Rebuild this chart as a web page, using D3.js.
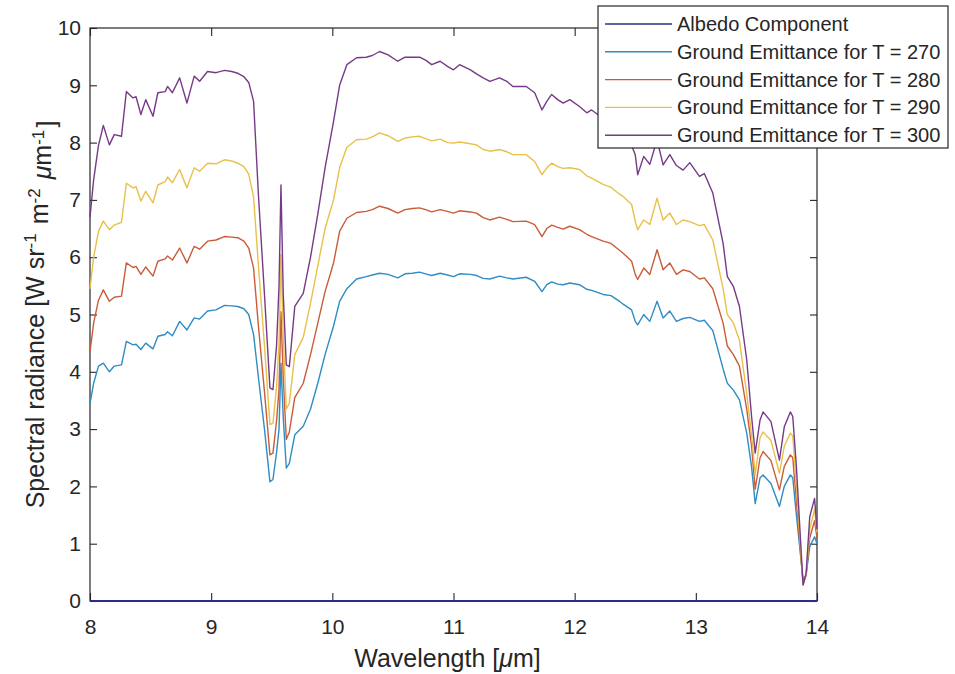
<!DOCTYPE html>
<html>
<head>
<meta charset="utf-8">
<script src="https://cdn.jsdelivr.net/npm/d3@7"></script>
<style>
  body { margin: 0; background: #fff; }
  svg { display: block; }
  text { font-family: "Liberation Sans", Arial, Helvetica, sans-serif; fill: #262626; }
</style>
</head>
<body>
<svg id="chart" width="955" height="674"></svg>
<script>
// Wavelength grid (µm) shared by the ground-emittance spectra
const wavelength = [
  8.00, 8.03, 8.07, 8.11, 8.16, 8.20, 8.26, 8.30, 8.355, 8.38,
  8.42, 8.46, 8.52, 8.56, 8.62, 8.64, 8.68, 8.74, 8.80, 8.86,
  8.905, 8.97, 9.04, 9.11, 9.17, 9.22, 9.27, 9.31, 9.35, 9.39,
  9.44, 9.485, 9.51, 9.54, 9.56, 9.576, 9.595, 9.62, 9.645, 9.69,
  9.76, 9.82, 9.88, 9.94, 10.01, 10.06, 10.12, 10.20, 10.28, 10.33,
  10.39, 10.46, 10.54, 10.60, 10.66, 10.72, 10.77, 10.82, 10.89, 10.95,
  11.00, 11.05, 11.14, 11.19, 11.245, 11.30, 11.38, 11.44, 11.49, 11.60,
  11.67, 11.73, 11.77, 11.81, 11.86, 11.905, 11.96, 12.04, 12.10, 12.14,
  12.235, 12.30, 12.37, 12.40, 12.47, 12.50, 12.52, 12.57, 12.62, 12.68,
  12.73, 12.785, 12.84, 12.895, 12.95, 13.03, 13.07, 13.14, 13.225, 13.26,
  13.31, 13.36, 13.42, 13.46, 13.49, 13.53, 13.555, 13.62, 13.69, 13.73,
  13.78, 13.80, 13.83, 13.885, 13.91, 13.94, 13.98, 14.00
];

// Albedo component (reflected part), essentially zero over the band
const albedoWl = [8, 9, 10, 11, 12, 13, 14];
const albedo   = [0, 0, 0, 0, 0, 0, 0];

// Ground emittance spectra, W sr^-1 m^-2 µm^-1
const emit270 = [
  3.45, 3.80, 4.10, 4.15, 4.00, 4.10, 4.12, 4.53, 4.47, 4.48,
  4.39, 4.50, 4.40, 4.62, 4.65, 4.70, 4.63, 4.88, 4.73, 4.94,
  4.92, 5.06, 5.08, 5.16, 5.15, 5.14, 5.10, 5.00, 4.65, 3.90,
  3.00, 2.08, 2.12, 2.60, 3.00, 4.15, 3.20, 2.32, 2.40, 2.90,
  3.05, 3.35, 3.80, 4.30, 4.80, 5.23, 5.45, 5.62, 5.66, 5.69,
  5.72, 5.70, 5.64, 5.71, 5.72, 5.74, 5.71, 5.68, 5.72, 5.69,
  5.66, 5.71, 5.70, 5.68, 5.63, 5.62, 5.67, 5.64, 5.62, 5.65,
  5.58, 5.40, 5.52, 5.57, 5.53, 5.52, 5.55, 5.52, 5.44, 5.42,
  5.35, 5.33, 5.23, 5.18, 5.08, 4.88, 4.82, 5.00, 4.88, 5.23,
  4.94, 5.06, 4.88, 4.93, 4.95, 4.88, 4.90, 4.72, 4.05, 3.80,
  3.68, 3.51, 2.93, 2.34, 1.70, 2.15, 2.20, 2.05, 1.65, 2.00,
  2.20, 2.15, 1.50, 0.37, 0.45, 0.95, 1.12, 1.00
];
const emit280 = [
  4.35, 4.85, 5.25, 5.43, 5.23, 5.30, 5.32, 5.90, 5.82, 5.84,
  5.70, 5.83, 5.67, 5.93, 5.97, 6.02, 5.95, 6.16, 5.90, 6.19,
  6.14, 6.28, 6.30, 6.36, 6.35, 6.34, 6.28, 6.16, 5.81, 4.80,
  3.65, 2.55, 2.58, 3.15, 3.70, 5.05, 3.90, 2.82, 2.95, 3.55,
  3.80, 4.30, 4.85, 5.40, 5.90, 6.45, 6.68, 6.78, 6.80, 6.83,
  6.89, 6.85, 6.77, 6.83, 6.85, 6.86, 6.83, 6.79, 6.83, 6.80,
  6.77, 6.81, 6.79, 6.77, 6.69, 6.65, 6.70, 6.66, 6.62, 6.63,
  6.57, 6.36, 6.50, 6.56, 6.52, 6.49, 6.54, 6.48, 6.40, 6.36,
  6.28, 6.24, 6.12, 6.07, 5.93, 5.70, 5.61, 5.81, 5.70, 6.13,
  5.78, 5.90, 5.70, 5.78, 5.75, 5.62, 5.64, 5.45, 4.85, 4.45,
  4.30, 4.10, 3.35, 2.70, 1.95, 2.50, 2.61, 2.45, 1.94, 2.35,
  2.55, 2.50, 1.75, 0.30, 0.45, 1.10, 1.40, 1.10
];
const emit290 = [
  5.45, 6.00, 6.45, 6.63, 6.48, 6.56, 6.61, 7.29, 7.21, 7.23,
  6.98, 7.15, 6.95, 7.26, 7.32, 7.40, 7.30, 7.53, 7.21, 7.56,
  7.50, 7.64, 7.63, 7.70, 7.68, 7.64, 7.58, 7.45, 7.05, 5.85,
  4.45, 3.08, 3.10, 3.75, 4.50, 6.05, 4.60, 3.35, 3.45, 4.30,
  4.60, 5.20, 5.85, 6.50, 7.00, 7.56, 7.92, 8.05, 8.06, 8.10,
  8.17, 8.12, 8.02, 8.08, 8.10, 8.11, 8.07, 8.03, 8.06, 8.00,
  7.99, 8.01, 7.98, 7.96, 7.88, 7.85, 7.88, 7.84, 7.79, 7.79,
  7.67, 7.44, 7.56, 7.64, 7.58, 7.55, 7.56, 7.53, 7.42, 7.38,
  7.27, 7.22, 7.10, 7.06, 6.92, 6.63, 6.48, 6.65, 6.57, 7.03,
  6.65, 6.77, 6.57, 6.65, 6.62, 6.55, 6.57, 6.30, 5.45, 5.00,
  4.85, 4.55, 3.62, 2.90, 2.20, 2.85, 2.95, 2.80, 2.23, 2.70,
  2.93, 2.88, 2.00, 0.28, 0.45, 1.25, 1.60, 1.20
];
const emit300 = [
  6.70, 7.35, 7.95, 8.30, 7.96, 8.14, 8.11, 8.89, 8.78, 8.80,
  8.49, 8.75, 8.46, 8.87, 8.89, 8.98, 8.87, 9.13, 8.69, 9.16,
  9.07, 9.24, 9.22, 9.26, 9.24, 9.21, 9.15, 9.05, 8.72, 7.09,
  5.35, 3.72, 3.69, 4.47, 5.50, 7.26, 5.35, 4.12, 4.09, 5.14,
  5.37, 6.00, 6.75, 7.56, 8.37, 9.00, 9.36, 9.48, 9.49, 9.52,
  9.59, 9.53, 9.42, 9.49, 9.49, 9.49, 9.44, 9.36, 9.42, 9.33,
  9.27, 9.36, 9.27, 9.20, 9.13, 9.07, 9.13, 9.07, 8.98, 8.98,
  8.87, 8.57, 8.72, 8.84, 8.75, 8.69, 8.75, 8.63, 8.52, 8.57,
  8.42, 8.35, 8.20, 8.12, 7.95, 7.79, 7.44, 7.76, 7.62, 8.05,
  7.61, 7.79, 7.60, 7.52, 7.65, 7.41, 7.46, 7.12, 6.24, 5.66,
  5.49, 5.14, 4.21, 3.22, 2.58, 3.16, 3.30, 3.13, 2.46, 3.04,
  3.30, 3.22, 2.34, 0.28, 0.48, 1.47, 1.79, 1.25
];

const seriesNames  = ["Albedo Component", "Ground Emittance for T = 270",
                      "Ground Emittance for T = 280", "Ground Emittance for T = 290",
                      "Ground Emittance for T = 300"];
const seriesColors = ["#2e2c86", "#2f8cc4", "#c95c38", "#e8c04a", "#773a88"];
const xTicks = [8, 9, 10, 11, 12, 13, 14];
const yTicks = [0, 1, 2, 3, 4, 5, 6, 7, 8, 9, 10];

const series = [
  { name: seriesNames[0], color: seriesColors[0], pts: albedoWl.map((w, i) => [w, albedo[i]]) },
  { name: seriesNames[1], color: seriesColors[1], pts: wavelength.map((w, i) => [w, emit270[i]]) },
  { name: seriesNames[2], color: seriesColors[2], pts: wavelength.map((w, i) => [w, emit280[i]]) },
  { name: seriesNames[3], color: seriesColors[3], pts: wavelength.map((w, i) => [w, emit290[i]]) },
  { name: seriesNames[4], color: seriesColors[4], pts: wavelength.map((w, i) => [w, emit300[i]]) }
];

const svg = d3.select("#chart");
const plot = { left: 90, right: 817, top: 28, bottom: 601 };
const axisColor = "#262626";

const x = d3.scaleLinear().domain([8, 14]).range([plot.left, plot.right]);
const y = d3.scaleLinear().domain([0, 10]).range([plot.bottom, plot.top]);

// Axes box with inward ticks on all four sides
function styleAxis(g) {
  g.select(".domain").remove();
  g.selectAll(".tick line").attr("stroke", axisColor).attr("stroke-width", 1.1);
  g.selectAll(".tick text").attr("fill", axisColor).style("font-size", "21px")
    .style("font-family", '"Liberation Sans", Arial, sans-serif');
}

svg.append("g").attr("transform", `translate(0,${plot.bottom})`)
  .call(d3.axisBottom(x).tickValues(xTicks).tickFormat(d3.format("d"))
        .tickSizeInner(-8).tickSizeOuter(0).tickPadding(18))
  .call(styleAxis);
svg.append("g").attr("transform", `translate(0,${plot.top})`)
  .call(d3.axisTop(x).tickValues(xTicks).tickFormat("")
        .tickSizeInner(-8).tickSizeOuter(0))
  .call(styleAxis);
svg.append("g").attr("transform", `translate(${plot.left},0)`)
  .call(d3.axisLeft(y).tickValues(yTicks).tickFormat(d3.format("d"))
        .tickSizeInner(-7).tickSizeOuter(0).tickPadding(9))
  .call(styleAxis);
svg.append("g").attr("transform", `translate(${plot.right},0)`)
  .call(d3.axisRight(y).tickValues(yTicks).tickFormat("")
        .tickSizeInner(-7).tickSizeOuter(0))
  .call(styleAxis);

svg.append("rect")
  .attr("x", plot.left).attr("y", plot.top)
  .attr("width", plot.right - plot.left).attr("height", plot.bottom - plot.top)
  .attr("fill", "none").attr("stroke", axisColor).attr("stroke-width", 1.2);

// Spectra
const line = d3.line().x(d => x(d[0])).y(d => y(d[1]));
svg.append("g").selectAll("path")
  .data(series)
  .join("path")
  .attr("d", d => line(d.pts))
  .attr("fill", "none")
  .attr("stroke", d => d.color)
  .attr("stroke-width", d => d === series[0] ? 2 : 1.4)
  .attr("stroke-linejoin", "round");

// Axis labels
svg.append("text")
  .attr("x", (plot.left + plot.right) / 2 - 6).attr("y", 667)
  .attr("text-anchor", "middle").style("font-size", "25px")
  .call(t => {
    t.append("tspan").text("Wavelength [");
    t.append("tspan").style("font-style", "italic").text("\u03bc");
    t.append("tspan").text("m]");
  });

const yl = svg.append("text")
  .attr("transform", `translate(44,${(plot.top + plot.bottom) / 2}) rotate(-90)`)
  .attr("text-anchor", "middle").style("font-size", "25px");
function sup(t, s) {
  t.append("tspan").attr("dy", "-0.45em").style("font-size", "17px").text(s);
  t.append("tspan").attr("dy", "0.45em").text("\u200a");
}
yl.append("tspan").text("Spectral radiance [W sr");
sup(yl, "-1");
yl.append("tspan").text(" m");
sup(yl, "-2");
yl.append("tspan").text(" ");
yl.append("tspan").style("font-style", "italic").text("\u03bc");
yl.append("tspan").text("m");
sup(yl, "-1");
yl.append("tspan").text("]");

// Legend
const lg = { x: 598, y: 6, w: 350, h: 142, row0: 24, rowStep: 27.8 };
svg.append("rect")
  .attr("x", lg.x).attr("y", lg.y).attr("width", lg.w).attr("height", lg.h)
  .attr("fill", "#fff").attr("stroke", axisColor).attr("stroke-width", 1.2);
const rows = svg.append("g").selectAll("g").data(series).join("g")
  .attr("transform", (d, i) => `translate(0,${lg.row0 + i * lg.rowStep})`);
rows.append("line")
  .attr("x1", 605).attr("x2", 672).attr("y1", 0).attr("y2", 0)
  .attr("stroke", d => d.color).attr("stroke-width", 1.4);
rows.append("text")
  .attr("x", 677).attr("y", 0).attr("dy", "0.35em")
  .style("font-size", "20px")
  .text(d => d.name);
</script>
</body>
</html>
